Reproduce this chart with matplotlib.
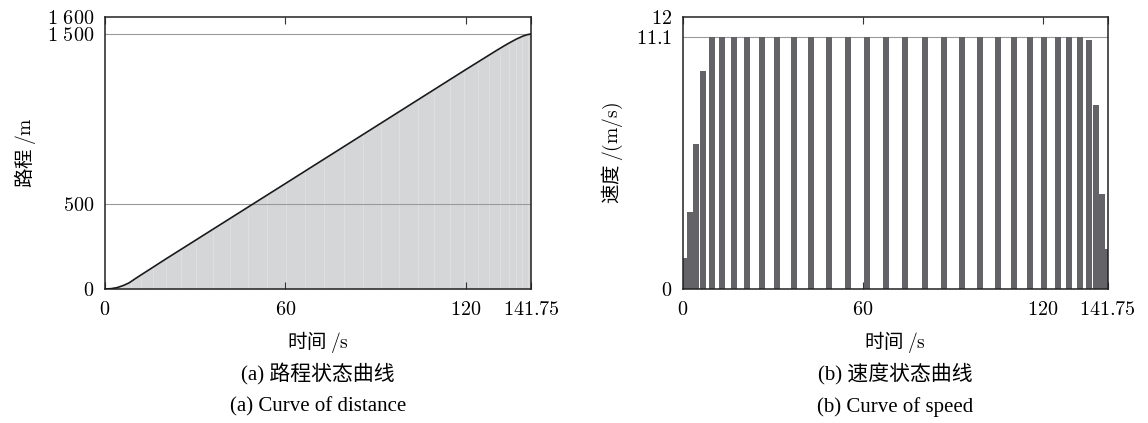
import matplotlib.pyplot as plt
import numpy as np

plt.rcParams['mathtext.fontset'] = 'cm'
plt.rcParams['font.family'] = ['Liberation Serif', 'Noto Sans CJK SC']

# distance curve
t_dist = [0, 2, 4, 6, 8, 10, 12, 15, 20, 60, 120, 130, 133, 135, 137, 139, 140.5, 141.75]
dist = [0, 2, 8, 20, 36, 60, 83, 117, 174, 620, 1290, 1400, 1432, 1452, 1471, 1487, 1496, 1500]

# speed bars of panel (b): start / end time and height
bar_start = [0, 1.33, 3.33, 5.67, 8.67, 12, 16, 20.33, 25.33, 30.33, 36, 41.67, 47.67, 54,
             60.33, 66.67, 73, 79.67, 86, 92, 98, 104, 109.33, 114.67, 119.33, 124, 127.67,
             131.33, 134.33, 136.67, 138.67, 140.67]
bar_end = [1.33, 3.33, 5.33, 7.67, 10.67, 14, 18, 22.33, 27.33, 32.33, 38, 43.67, 49.67, 56,
           62.33, 68.67, 75, 81.67, 88, 94, 100, 106, 111.33, 116.67, 121.33, 126, 129.67,
           133.33, 136.33, 138.67, 140.67, 141.75]
speed = [1.37, 3.4, 6.4, 9.6] + [11.1] * 24 + [11.0, 8.1, 4.2, 1.77]

t_end = 141.75
xticks = [0, 60, 120, 141.75]
xlabels = ['$0$', '$60$', '$120$', '$141.75$']

fig = plt.figure(figsize=(11.48, 4.23), dpi=100)
ax1 = fig.add_axes([0.0915, 0.3168, 0.371, 0.643])
ax2 = fig.add_axes([0.595, 0.3168, 0.370, 0.643])

# (a) distance
ax1.fill_between(t_dist, dist, 0, color='#d5d6d8', lw=0, zorder=1)
ax1.vlines(bar_start[1:], 0, np.interp(bar_start[1:], t_dist, dist),
           color='#dfe0e2', lw=0.6, zorder=1.5)
ax1.plot(t_dist, dist, color='#1a1a1a', lw=1.2, zorder=3)
for yv in (500, 1500):
    ax1.axhline(yv, color='#9a9a9a', lw=0.8, zorder=2)
ax1.set_xlim(0, t_end)
ax1.set_ylim(0, 1600)
ax1.set_yticks([0, 500, 1500, 1600])
ax1.set_yticklabels(['$0$', '$500$', r'$1\ 500$', r'$1\ 600$'])
ax1.set_ylabel('路程 $/\\mathrm{m}$', fontsize=14, family=['Noto Sans CJK SC'], labelpad=6)

# (b) speed
lefts = np.array(bar_start)
widths = np.array(bar_end) - lefts
ax2.bar(lefts, speed, width=widths, align='edge', color='#646468', lw=0, zorder=2)
ax2.axhline(11.1, color='#9a9a9a', lw=0.8, zorder=1)
ax2.set_xlim(0, t_end)
ax2.set_ylim(0, 12)
ax2.set_yticks([0, 11.1, 12])
ax2.set_yticklabels(['$0$', '$11.1$', '$12$'])
ax2.set_ylabel('速度 $/(\\mathrm{m/s})$', fontsize=14, family=['Noto Sans CJK SC'], labelpad=8)

for ax in (ax1, ax2):
    ax.set_xticks(xticks)
    ax.set_xticklabels(xlabels)
    ax.tick_params(axis='x', direction='in', top=True, length=5, width=0.8,
                   labelsize=14.5, pad=9, color='#333333')
    ax.tick_params(axis='y', direction='in', length=0, labelsize=14.5, pad=8)
    for s in ax.spines.values():
        s.set_linewidth(1.1)
        s.set_color('#222222')
    ax.set_xlabel('时间 $/\\mathrm{s}$', fontsize=14, family=['Noto Sans CJK SC'], labelpad=6)

fig.text(0.277, 0.115, '(a) 路程状态曲线', ha='center', va='center', fontsize=15)
fig.text(0.277, 0.038, '(a) Curve of distance', ha='center', va='center', fontsize=15)
fig.text(0.78, 0.115, '(b) 速度状态曲线', ha='center', va='center', fontsize=15)
fig.text(0.78, 0.038, '(b) Curve of speed', ha='center', va='center', fontsize=15)

fig.savefig('out.png', dpi=100)
